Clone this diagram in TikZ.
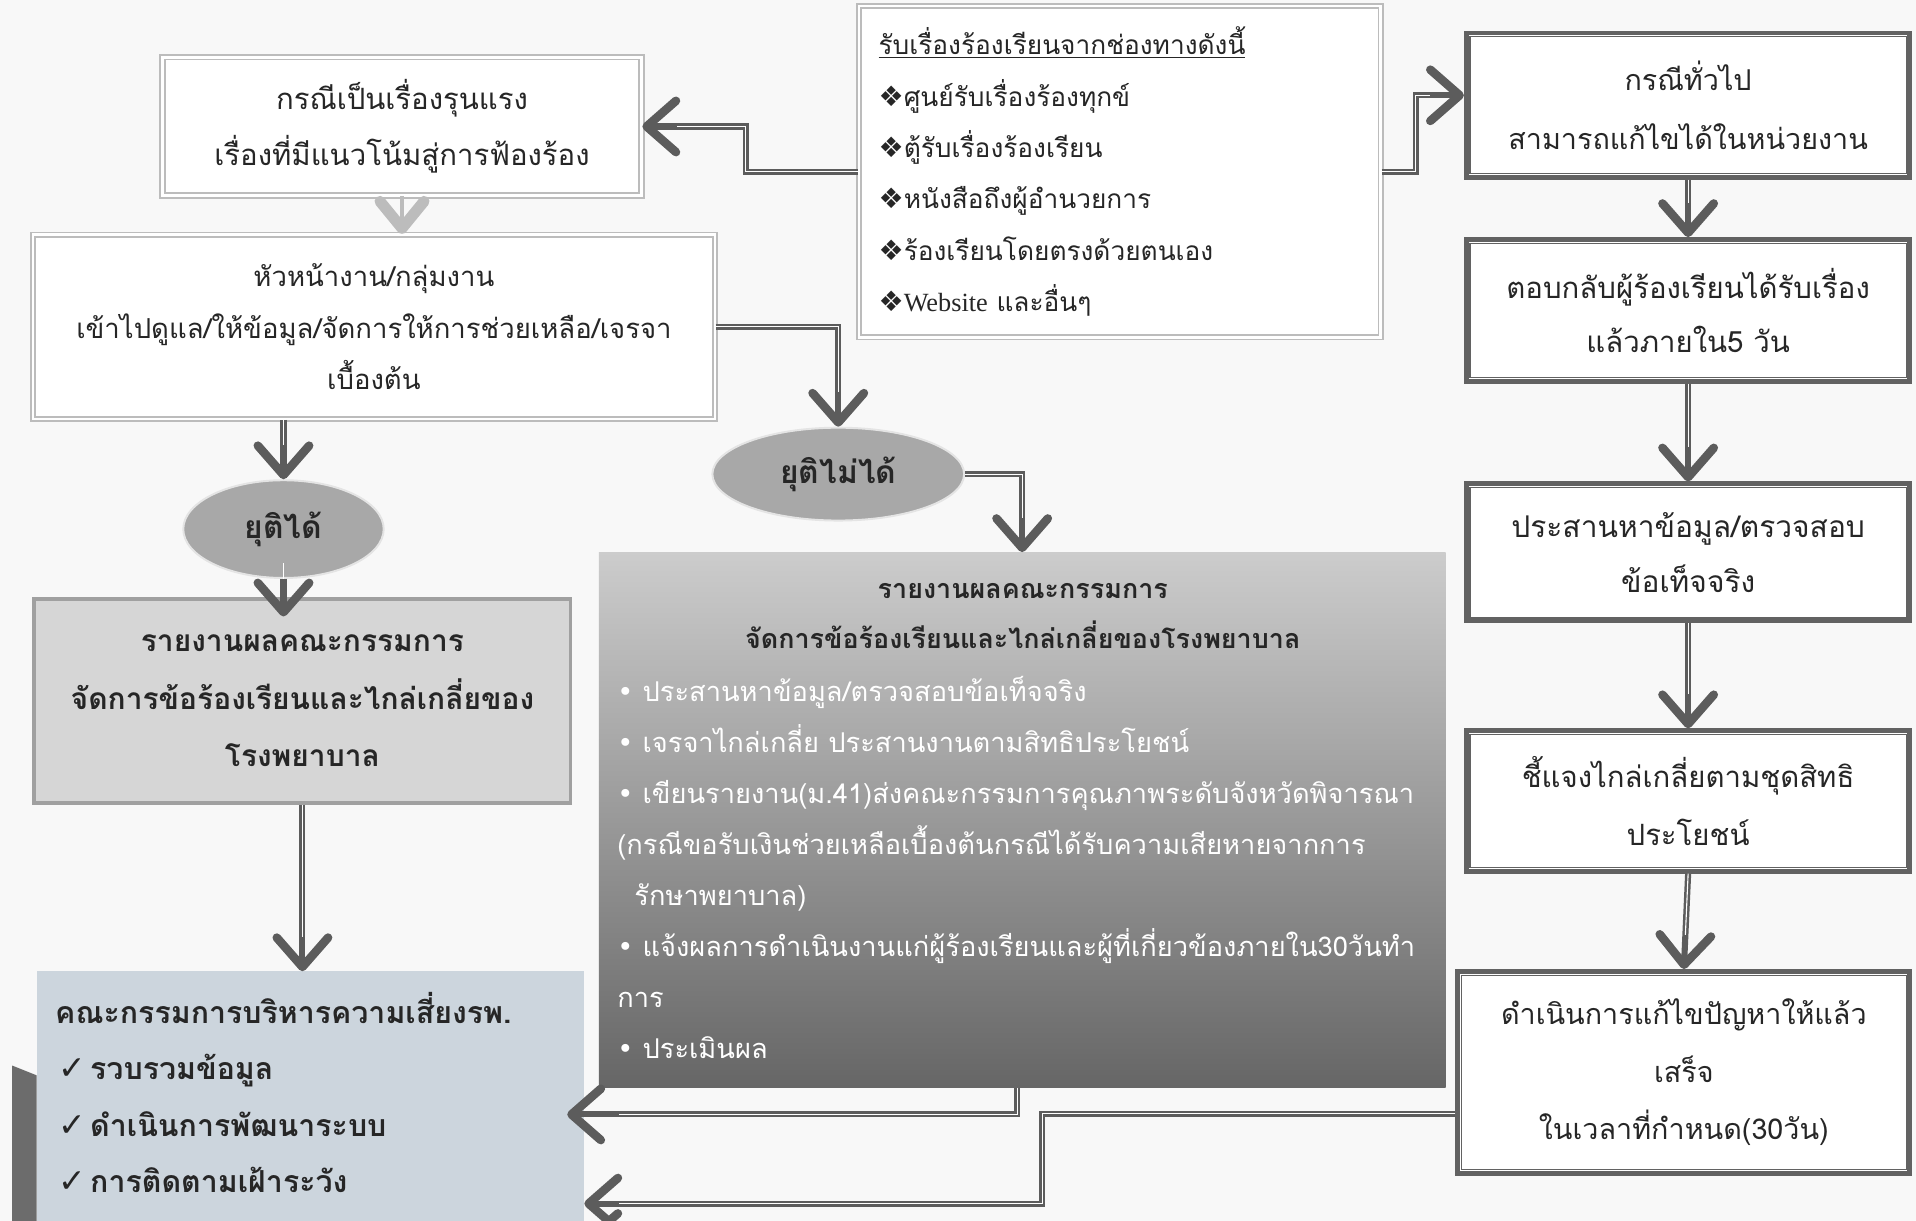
\documentclass[tikz,border=0pt]{standalone}
\usepackage{fontspec}
\setmainfont[Script=Thai]{Loma}
\newfontfamily\symfont{DejaVu Sans}
\newfontfamily\latinserif{Liberation Serif}
\usepackage{xcolor}
\usepackage{tikz}
\usetikzlibrary{arrows.meta,positioning,calc,shapes.geometric}
\definecolor{paper}{RGB}{248,248,248}
\definecolor{ink}{RGB}{38,38,38}
\definecolor{darkframe}{RGB}{98,98,98}
\definecolor{lightframe}{RGB}{188,188,188}
\definecolor{arrowgray}{RGB}{92,92,92}
\definecolor{ovalgray}{RGB}{168,168,168}
\definecolor{ovalrim}{RGB}{228,228,228}
\definecolor{reportfill}{RGB}{214,214,214}
\definecolor{reportrim}{RGB}{160,160,160}
\definecolor{gradtop}{RGB}{204,204,204}
\definecolor{gradbottom}{RGB}{102,102,102}
\definecolor{riskfill}{RGB}{204,213,221}
\definecolor{sidebar}{RGB}{108,108,108}
\tikzset{
  softbox/.style={draw=lightframe, line width=1.4pt, double=white, double distance=2.2pt,
    fill=white, inner sep=0pt, align=center, text=ink},
  hardbox/.style={draw=darkframe, line width=4pt, fill=white, inner sep=0pt,
    align=center, text=ink, minimum width=363pt},
  innerframe/.style={draw=darkframe, line width=0.9pt},
  reportbox/.style={draw=reportrim, line width=3pt, fill=reportfill, inner sep=0pt,
    align=center, text=ink},
  gradbox/.style={top color=gradtop, bottom color=gradbottom, draw=none, inner sep=0pt},
  riskbox/.style={fill=riskfill, draw=none, inner sep=0pt},
  oval/.style={ellipse, fill=ovalgray, draw=ovalrim, line width=1.6pt, inner sep=0pt,
    text=ink, font=\bfseries\fontsize{26}{30}\selectfont},
  flow/.style={draw=arrowgray, line width=5pt,
    -{Straight Barb[length=24pt, width=42pt, line width=7pt, round]},
    postaction={draw=white, line width=0.9pt, -, shorten >=28pt}},
  paleflow/.style={draw=lightframe, line width=3pt,
    -{Straight Barb[length=22pt, width=36pt, line width=9pt, round]}}
}
\begin{document}
\begin{tikzpicture}[x=1pt, y=-1pt]
\fill[paper] (0,0) rectangle (1568,999);
\useasboundingbox (0,0) rectangle (1568,999);

% top row
\node[softbox, minimum width=392pt, minimum height=113pt,
  font=\fontsize{24}{46}\selectfont] (severe) at (329,103.5)
  {กรณีเป็นเรื่องรุนแรง\\เรื่องที่มีแนวโน้มสู่การฟ้องร้อง};
\node[softbox, minimum width=427pt, minimum height=271pt, align=left, text width=395pt,
  font=\fontsize{21.5}{42}\selectfont] (channels) at (916.5,140.5)
  {\underline{รับเรื่องร้องเรียนจากช่องทางดังนี้}\\
   {\symfont\fontsize{23}{42}\selectfont ❖}ศูนย์รับเรื่องร้องทุกข์\\
   {\symfont\fontsize{23}{42}\selectfont ❖}ตู้รับเรื่องร้องเรียน\\
   {\symfont\fontsize{23}{42}\selectfont ❖}หนังสือถึงผู้อำนวยการ\\
   {\symfont\fontsize{23}{42}\selectfont ❖}ร้องเรียนโดยตรงด้วยตนเอง\\
   {\symfont\fontsize{23}{42}\selectfont ❖}{\latinserif Website} และอื่นๆ};

% right column
\node[hardbox, minimum height=118pt, font=\fontsize{23.5}{48}\selectfont] (general)
  at (1381.5,86) {กรณีทั่วไป\\สามารถแก้ไขได้ในหน่วยงาน};
\node[hardbox, minimum height=116pt, font=\fontsize{24}{44}\selectfont] (reply)
  at (1381.5,254) {ตอบกลับผู้ร้องเรียนได้รับเรื่อง\\แล้วภายใน5 วัน};
\node[hardbox, minimum height=112pt, font=\fontsize{24.5}{45}\selectfont] (check)
  at (1381.5,452) {ประสานหาข้อมูล/ตรวจสอบ\\ข้อเท็จจริง};
\node[hardbox, minimum height=115pt, font=\fontsize{24}{47}\selectfont] (explain)
  at (1381.5,655.5) {ชี้แจงไกล่เกลี่ยตามชุดสิทธิ\\ประโยชน์};
\node[hardbox, minimum width=370pt, minimum height=165pt, font=\fontsize{23.5}{47}\selectfont] (done)
  at (1378,877.5) {ดำเนินการแก้ไขปัญหาให้แล้ว\\เสร็จ\\ในเวลาที่กำหนด(30วัน)};
\foreach \n in {general,reply,check,explain,done}
  \draw[innerframe] ($(\n.south west)+(5pt,5pt)$) rectangle ($(\n.north east)+(-5pt,-5pt)$);

% left column
\node[softbox, minimum width=558pt, minimum height=151pt,
  font=\fontsize{22.5}{42}\selectfont] (head) at (306,267.5)
  {หัวหน้างาน/กลุ่มงาน\\เข้าไปดูแล/ให้ข้อมูล/จัดการให้การช่วยเหลือ/เจรจา\\เบื้องต้น};
\node[oval, minimum width=206pt, minimum height=76pt] (fail) at (686,388) {ยุติไม่ได้};
\node[oval, minimum width=164pt, minimum height=80pt] (settle) at (232,433) {ยุติได้};
\node[reportbox, minimum width=439pt, minimum height=167pt,
  font=\bfseries\fontsize{24.5}{47}\selectfont] (report) at (247.5,573.5)
  {รายงานผลคณะกรรมการ\\จัดการข้อร้องเรียนและไกล่เกลี่ยของ\\โรงพยาบาล};

% committee box
\node[gradbox, minimum width=693pt, minimum height=438pt] (board) at (836.5,671) {};
\node[align=center, text=ink, inner sep=0pt, font=\bfseries\fontsize{22}{41}\selectfont]
  (boardhead) at (837,504)
  {รายงานผลคณะกรรมการ\\จัดการข้อร้องเรียนและไกล่เกลี่ยของโรงพยาบาล};
\node[align=left, text=white, inner sep=0pt, anchor=north west,
  font=\fontsize{22.3}{41.8}\selectfont] (boardlist) at (505,553)
  {{\symfont •} ประสานหาข้อมูล/ตรวจสอบข้อเท็จจริง\\
   {\symfont •} เจรจาไกล่เกลี่ย ประสานงานตามสิทธิประโยชน์\\
   {\symfont •} เขียนรายงาน(ม.41)ส่งคณะกรรมการคุณภาพระดับจังหวัดพิจารณา\\
   (กรณีขอรับเงินช่วยเหลือเบื้องต้นกรณีได้รับความเสียหายจากการ\\
   \hspace*{14pt}รักษาพยาบาล)\\
   {\symfont •} แจ้งผลการดำเนินงานแก่ผู้ร้องเรียนและผู้ที่เกี่ยวข้องภายใน30วันทำ\\
   การ\\
   {\symfont •} ประเมินผล};

% risk box
\node[riskbox, minimum width=448pt, minimum height=214pt] (risk) at (254,902) {};
\fill[sidebar] (10,872) -- (30,880) -- (30,1010) -- (10,1010) -- cycle;
\node[align=left, text=ink, inner sep=0pt, anchor=north west,
  font=\bfseries\fontsize{24.8}{46}\selectfont] (risklist) at (45,812)
  {คณะกรรมการบริหารความเสี่ยงรพ.\\
   \hspace*{3pt}{\symfont\mdseries\fontsize{27}{46}\selectfont ✓}\hspace{3pt}รวบรวมข้อมูล\\
   \hspace*{3pt}{\symfont\mdseries\fontsize{27}{46}\selectfont ✓}\hspace{3pt}ดำเนินการพัฒนาระบบ\\
   \hspace*{3pt}{\symfont\mdseries\fontsize{27}{46}\selectfont ✓}\hspace{3pt}การติดตามเฝ้าระวัง};

% connectors
\draw[flow] (channels.west) -- ++(-92,0) |- (severe.east);
\draw[flow] (channels.east) -- ++(28,0) |- ([yshift=8pt]general.west);
\draw[paleflow] (severe.south) -- (severe.south |- head.north);
\draw[flow] (head.east) -| (fail.north);
\draw[flow] (fail.east) -| (board.north);
\draw[flow] (head.south -| settle.north) -- (settle.north);
\draw[flow, shorten >=-16pt] (settle.south) -- (report.north -| settle.south);
\draw[flow] (report.south) -- (report.south |- risk.north);
\draw[flow] (general.south) -- (reply.north);
\draw[flow] (reply.south) -- (check.north);
\draw[flow] (check.south) -- (explain.north);
\draw[flow] (explain.south) -- (done.north);
\draw[flow, shorten >=-14pt] ([xshift=-4pt]board.south) |- ([yshift=-10pt]risk.east);
\draw[flow] ([yshift=-34pt]done.west) -- ++(-338,0) |- ([yshift=-83pt]risk.east);
\coordinate (offpage) at (560,1014);
\draw[flow] (offpage) -- (risk.east |- offpage);
\end{tikzpicture}
\end{document}
